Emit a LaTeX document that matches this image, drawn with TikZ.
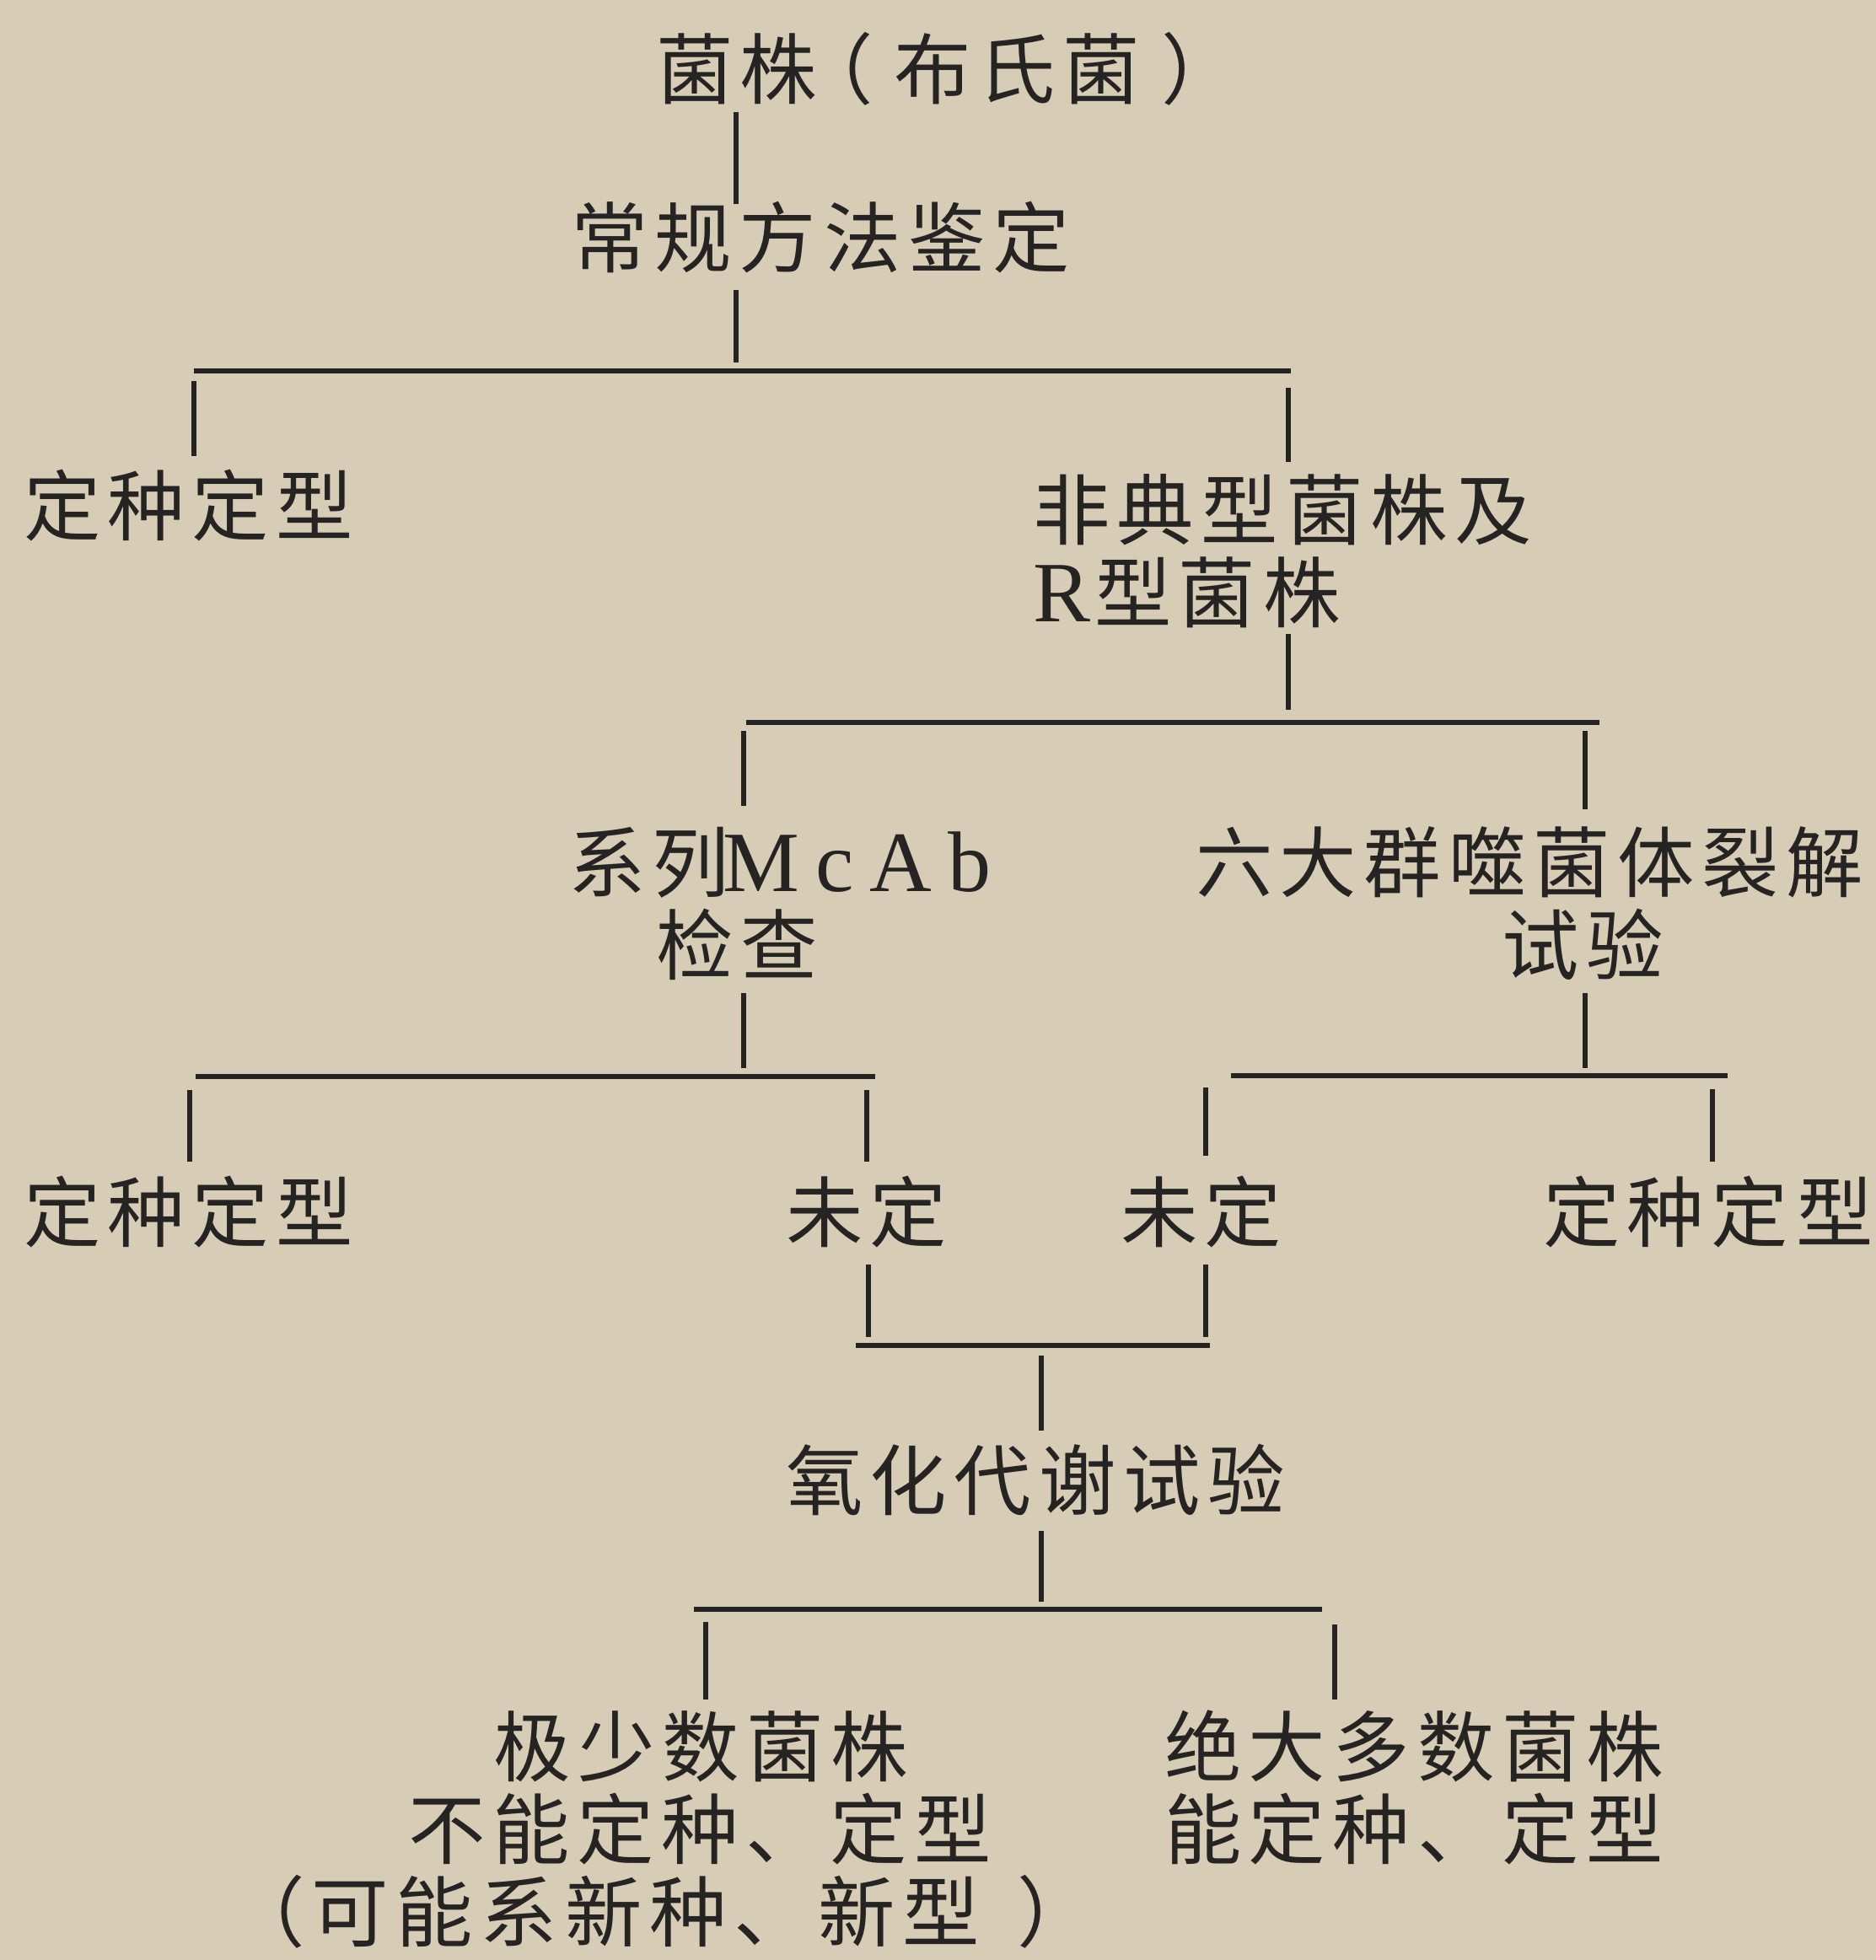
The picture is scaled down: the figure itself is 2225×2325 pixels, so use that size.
\documentclass[tikz,border=0pt]{standalone}
\usepackage{fontspec}
\newfontfamily\cjk[LetterSpace=9.4]{Noto Sans CJK SC}
\newfontfamily\latfont{Liberation Serif}
\newcommand\lat[1]{{\latfont\fontsize{29pt}{29pt}\selectfont #1}}
\newcommand\stt{\rule[-0.12em]{0pt}{1em}}
\definecolor{paper}{RGB}{215,205,182}
\definecolor{ink}{RGB}{38,36,34}
\begin{document}
\begin{tikzpicture}[x=0.01cm,y=-0.01cm,
  lbl/.style={inner sep=0pt, outer sep=0pt, text=ink, font=\cjk\fontsize{26pt}{27.88pt}\selectfont},
  ml/.style={lbl, align=left, anchor=north west},
  sl/.style={lbl, anchor=west},
  ln/.style={draw=ink, line width=1.5pt},
  gap/.style 2 args={shorten <=#1cm, shorten >=#2cm}]
\fill[paper] (0,0) rectangle (2225,2325);
\useasboundingbox (0,0) rectangle (2225,2325);
% labels
\node[sl] (n0) at (778,82) {\stt 菌株\hspace{-0.25cm}（\hspace{0.25cm}布氏菌\hspace{0.25cm}）};
\node[sl] (n1) at (677,282) {\stt 常规方法鉴定};
\node[sl] (n2) at (28,600) {\stt 定种定型};
\node[ml] (n3) at (1225,559) {\stt 非典型菌株及\\\stt\lat{R}\hspace{0.05cm}型菌株};
\node[ml] (n4) at (674,977) {\stt 系列\hspace{-0.08cm}\lat{M\hspace{0.19cm}c\hspace{0.19cm}A\hspace{0.19cm}b}\\\hspace*{1.04cm}\stt 检查};
\node[ml] (n5) at (1418,977) {\stt 六大群噬菌体裂解\\\hspace*{3.63cm}\stt 试验};
\node[sl] (n6) at (28,1438) {\stt 定种定型};
\node[sl] (n7) at (932,1438) {\stt 未定};
\node[sl] (n8) at (1329,1438) {\stt 未定};
\node[sl] (n9) at (1830,1438) {\stt 定种定型};
\node[sl] (n10) at (932,1756) {\stt 氧化代谢试验};
\node[ml] (n11) at (270,2026) {\hspace*{3.15cm}\stt 极少数菌株\\\hspace*{2.14cm}\stt 不能定种、定型\\\stt（可能系新种、新型\hspace{0.45cm}）};
\node[ml] (n12) at (1381,2026) {\stt 绝大多数菌株\\\stt 能定种、定型};
% junction coordinates
\coordinate (j1) at (873,440); \coordinate (b1l) at (230,440); \coordinate (b1r) at (1531,440);
\coordinate (k1r) at (1528,440);
\coordinate (j2) at (1528,857); \coordinate (b2l) at (885,857); \coordinate (b2r) at (1897,857);
\coordinate (k2l) at (882,857); \coordinate (k2r) at (1880,857);
\coordinate (j3) at (882,1277); \coordinate (b3l) at (232,1277); \coordinate (b3r) at (1038,1277);
\coordinate (k3l) at (225,1277); \coordinate (k3r) at (1028,1277);
\coordinate (j4) at (1880,1276); \coordinate (b4l) at (1460,1276); \coordinate (b4r) at (2049,1276);
\coordinate (k4l) at (1430,1276); \coordinate (k4r) at (2031,1276);
\coordinate (j5) at (1235,1596); \coordinate (b5l) at (1015,1596); \coordinate (b5r) at (1435,1596);
\coordinate (k5l) at (1030,1596); \coordinate (k5r) at (1430,1596);
\coordinate (j6) at (1235,1909); \coordinate (b6l) at (823,1909); \coordinate (b6r) at (1568,1909);
\coordinate (k6l) at (837,1909); \coordinate (k6r) at (1583,1909);
% connectors
\draw[ln, gap={0.05}{-0.06}] (n0.south -| j1) -- (n1.north -| j1);
\draw[ln, gap={0.16}{0.10}] (n1.south -| j1) -- (j1);
\draw[ln] (b1l) -- (b1r);
\draw[ln, gap={0.12}{0.13}] (b1l) -- (n2.north -| b1l);
\draw[ln, gap={0.20}{0.11}] (k1r) -- (n3.north -| k1r);
\draw[ln, gap={0.04}{0.15}] (n3.south -| j2) -- (j2);
\draw[ln] (b2l) -- (b2r);
\draw[ln, gap={0.10}{0.21}] (k2l) -- (n4.north -| k2l);
\draw[ln, gap={0.10}{0.17}] (k2r) -- (n5.north -| k2r);
\draw[ln, gap={0.12}{0.10}] (n4.south -| j3) -- (j3);
\draw[ln] (b3l) -- (b3r);
\draw[ln, gap={0.16}{0.14}] (k3l) -- (n6.north -| k3l);
\draw[ln, gap={0.16}{0.14}] (k3r) -- (n7.north -| k3r);
\draw[ln, gap={0.12}{0.09}] (n5.south -| j4) -- (j4);
\draw[ln] (b4l) -- (b4r);
\draw[ln, gap={0.14}{0.21}] (k4l) -- (n8.north -| k4l);
\draw[ln, gap={0.16}{0.14}] (k4r) -- (n9.north -| k4r);
\draw[ln, gap={0.16}{0.10}] (n7.south -| k5l) -- (k5l);
\draw[ln, gap={0.16}{0.10}] (n8.south -| k5r) -- (k5r);
\draw[ln] (b5l) -- (b5r);
\draw[ln, gap={0.12}{0.13}] (j5) -- (n10.north -| j5);
\draw[ln, gap={0.14}{0.09}] (n10.south -| j6) -- (j6);
\draw[ln] (b6l) -- (b6r);
\draw[ln, gap={0.15}{0.10}] (k6l) -- (n11.north -| k6l);
\draw[ln, gap={0.18}{0.10}] (k6r) -- (n12.north -| k6r);
\end{tikzpicture}
\end{document}
